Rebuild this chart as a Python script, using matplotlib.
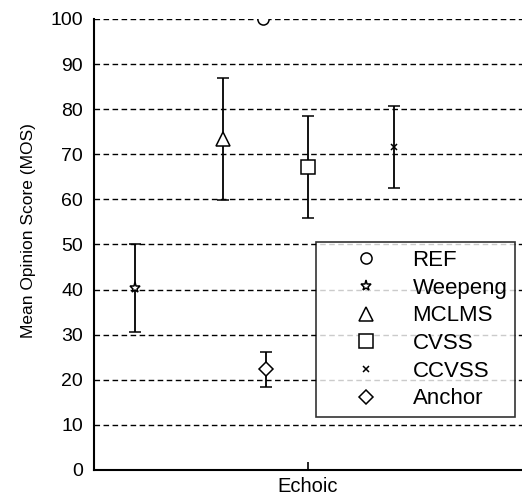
import numpy as np
import matplotlib.pyplot as plt

plt.rcParams['font.family'] = ['Liberation Sans', 'DejaVu Sans']

# mean opinion scores
methods = ['REF', 'Weepeng', 'MCLMS', 'CVSS', 'CCVSS', 'Anchor']
mos_mean = [100, 40.3, 73.4, 67.2, 71.6, 22.3]
mos_err = [0, 9.7, 13.5, 11.3, 9.1, 3.9]
x_offset = [-0.105, -0.404, -0.199, 0.0, 0.2, -0.098]
markers = ['o', '*', '^', 's', 'x', 'D']
msizes = [8, 8, 10, 10, 5, 7]
condition = ['Echoic']

fig = plt.figure(figsize=(5.22, 4.99), dpi=100)
ax = fig.add_axes([94 / 522, 29 / 499, 428 / 522, 451 / 499])

handles = []
for i, name in enumerate(methods):
    eb = ax.errorbar(1 + x_offset[i], mos_mean[i], yerr=mos_err[i] if mos_err[i] else None,
                     fmt=markers[i], mfc='white' if markers[i] != 'x' else 'black',
                     mec='black', ms=msizes[i], mew=1.1, ecolor='black',
                     elinewidth=1.3, capsize=4, capthick=1.3, zorder=3)
    h, = ax.plot([], [], linestyle='none', marker=markers[i], mfc='white',
                 mec='black', ms=msizes[i], mew=1.1)
    handles.append(h)

ax.set_xlim(0.5, 1.5)
ax.set_ylim(0, 100)
ax.set_yticks(np.arange(0, 101, 10))
ax.set_xticks([1])
ax.set_xticklabels(condition, fontsize=14.5)
ax.tick_params(axis='y', labelsize=14, direction='in', length=0, pad=8)
ax.tick_params(axis='x', direction='in', length=6, width=1.2, pad=5)
for y in range(10, 101, 10):
    ax.axhline(y, color='black', linestyle=(0, (4, 2.5)), linewidth=1.0, zorder=1)

for s in ['top', 'right']:
    ax.spines[s].set_visible(False)
for s in ['left', 'bottom']:
    ax.spines[s].set_linewidth(1.5)

ax.set_ylabel('Mean Opinion Score (MOS)', fontsize=12.5)
ax.yaxis.set_label_coords(-0.135, 0.532)

leg = ax.legend(handles, methods, loc='lower right', bbox_to_anchor=(0.984, 0.117),
                fontsize=16, frameon=True, fancybox=False, edgecolor='black',
                handletextpad=0.21, labelspacing=0.3, borderpad=0.35, handlelength=3.8,
                borderaxespad=0)
leg.get_frame().set_linewidth(1.2)
leg.set_zorder(5)

fig.savefig('out.png', dpi=100)
